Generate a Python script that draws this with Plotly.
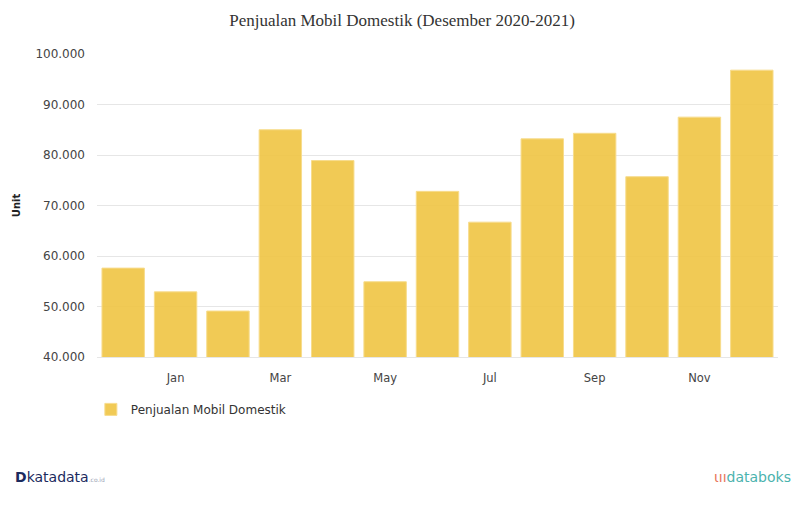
import plotly.graph_objects as go

months = ["Des 2020", "Jan", "Feb", "Mar", "Apr", "May", "Jun", "Jul", "Aug", "Sep", "Oct", "Nov", "Dec"]
sales = [57600, 52900, 49100, 85000, 78900, 54900, 72800, 66700, 83200, 84300, 75700, 87500, 96800]
tick_idx = [1, 3, 5, 7, 9, 11]
tick_labels = [months[i] for i in tick_idx]
y_ticks = [40000, 50000, 60000, 70000, 80000, 90000, 100000]

x = list(range(len(months)))

fig = go.Figure()
fig.add_trace(go.Bar(
    x=x, y=sales, name="Penjualan Mobil Domestik",
    marker=dict(color="rgba(240,196,66,0.9)", line=dict(color="rgba(247,220,140,1)", width=1)),
    hovertext=months,
))

fig.update_layout(
    width=804, height=526,
    margin=dict(l=97, r=26, t=54, b=169),
    paper_bgcolor="white", plot_bgcolor="white",
    separators=",.",
    bargap=0.19,
    title=dict(text="Penjualan Mobil Domestik (Desember 2020-2021)",
               x=0.5, xanchor="center", y=0.962, yanchor="middle",
               font=dict(family="Liberation Serif", size=17, color="#333333")),
    font=dict(family="DejaVu Sans", size=12, color="#444444"),
    showlegend=True,
    legend=dict(orientation="h", x=-0.009, xanchor="left", y=-0.125, yanchor="top",
                font=dict(family="DejaVu Sans", size=12, color="#333333")),
    xaxis=dict(tickmode="array", tickvals=tick_idx, ticktext=tick_labels,
               range=[-0.5, len(months) - 0.5], showgrid=False, zeroline=False,
               showline=True, linecolor="#e6e6e6", linewidth=1, ticks="",
               ticklabelstandoff=10, automargin=False,
               tickfont=dict(family="DejaVu Sans", size=11.5, color="#444444")),
    yaxis=dict(range=[40000, 100000], tickvals=y_ticks, tickformat=",d",
               showgrid=True, gridcolor="#e6e6e6", zeroline=False,
               ticks="", ticklen=0, ticklabelstandoff=11, automargin=False,
               title=dict(text="<b>Unit</b>", standoff=12,
                          font=dict(family="DejaVu Sans", size=10, color="#222222")),
               tickfont=dict(family="DejaVu Sans", size=12, color="#444444")),
    annotations=[
        dict(text="<b><span style='color:#1b2a5e'>D</span></b><span style='color:#1b2a5e'>katadata</span><span style='font-size:6px;color:#9aa3b5'>.co.id</span>",
             xref="paper", yref="paper", x=-0.124, y=-0.395, xanchor="left", yanchor="middle",
             showarrow=False, font=dict(family="DejaVu Sans", size=14, color="#1b2a5e")),
        dict(text="<span style='color:#e8735a'>ιıı</span><span style='color:#4bb3ae'>databoks</span>",
             xref="paper", yref="paper", x=1.022, y=-0.395, xanchor="right", yanchor="middle",
             showarrow=False, font=dict(family="DejaVu Sans", size=14, color="#4bb3ae")),
    ],
)

fig.write_html("out.html")
